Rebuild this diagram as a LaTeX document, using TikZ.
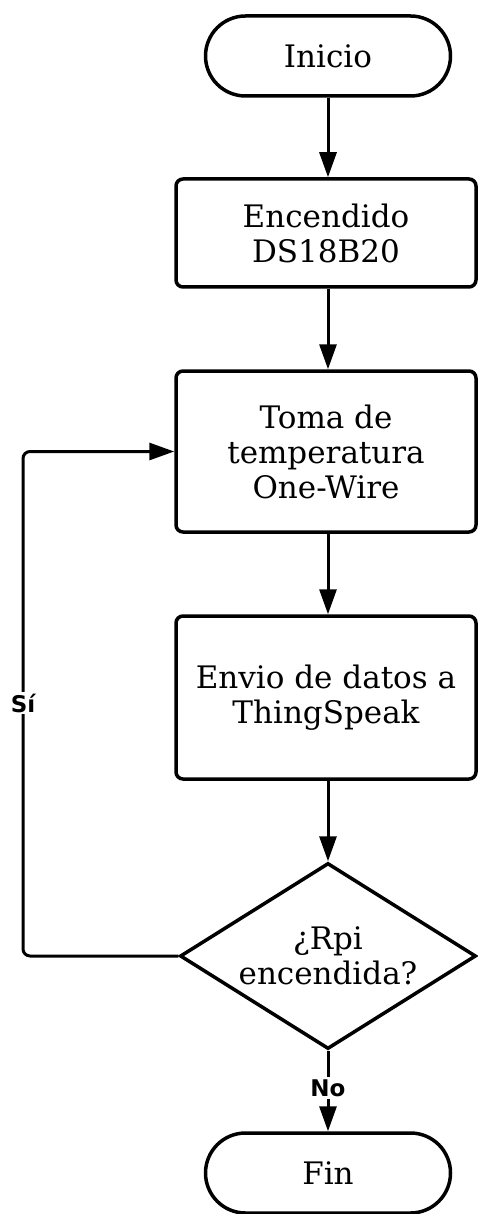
\documentclass[tikz,border=0pt]{standalone}
\usepackage{fontspec}
\setmainfont{DejaVu Serif}
\newfontfamily\lblfont{DejaVu Sans}
\usetikzlibrary{shapes.geometric,shapes.misc,arrows.meta}
\tikzset{
  x=1pt, y=-1pt,
  base/.style={draw=black, line width=3.5pt, fill=white, align=center, font=\fontsize{31}{35}\selectfont, inner sep=0pt},
  term/.style={base, rounded rectangle, minimum width=245pt, minimum height=80pt},
  proc/.style={base, rounded corners=7pt, minimum width=300pt},
  deci/.style={base, diamond, minimum width=296pt, minimum height=186pt, aspect=1.6},
  conn/.style={line width=3pt, -{Triangle[length=25pt,width=17pt]}, rounded corners=7pt},
  lbl/.style={font=\lblfont\bfseries\fontsize{23}{26}\selectfont, fill=white, inner sep=2pt}
}
\begin{document}
\begin{tikzpicture}
\useasboundingbox (0,0) rectangle (478,1214);
\node[term] (ini) at (328,56) {Inicio};
\node[proc, minimum height=108pt] (enc) at (326,233) {Encendido\\DS18B20};
\node[proc, minimum height=161pt] (tom) at (326,451.5) {Toma de\\temperatura\\One-Wire};
\node[proc, minimum height=163pt] (env) at (326,697.5) {Envio de datos a\\ThingSpeak};
\node[deci] (dec) at (328,956) {¿Rpi\\encendida?};
\node[term] (fin) at (328,1173) {Fin};
\draw[conn] (ini.south) -- (enc.north -| ini.south);
\draw[conn] (enc.south -| ini.south) -- (tom.north -| ini.south);
\draw[conn] (tom.south -| ini.south) -- (env.north -| ini.south);
\draw[conn] (env.south -| ini.south) -- (dec.north);
\draw[conn] (dec.west) -- (23,956) -- (23,451.5) -- (tom.west);
\draw[conn] (dec.south) -- (fin.north);
\node[lbl] (si) at (23,703) {Sí};
\node[lbl] (no) at (328,1088) {No};
\end{tikzpicture}
\end{document}
